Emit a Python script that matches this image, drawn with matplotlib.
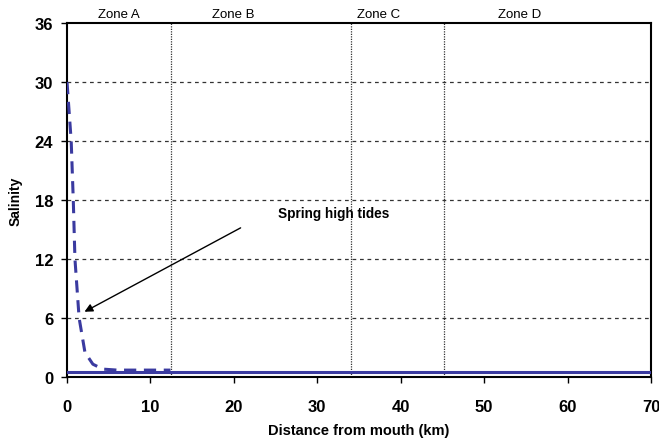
import matplotlib
matplotlib.use('Agg')
import matplotlib.pyplot as plt

plt.rcParams['font.family'] = ['Liberation Sans', 'DejaVu Sans']

# salinity profile during spring high tides (dashed) and base level (solid)
spring_km = [0, 0.5, 0.75, 0.95, 1.45, 2.15, 3.1, 4.3, 6, 12.4]
spring_sal = [30, 24, 18, 12, 6, 2.5, 1.3, 0.8, 0.7, 0.7]
base_km = [0, 70]
base_sal = [0.5, 0.5]

zone_bounds = [12.5, 34, 45.2]
zone_names = ['Zone A', 'Zone B', 'Zone C', 'Zone D']
zone_label_x = [6.2, 19.9, 37.3, 54.3]

xticks = [0, 10, 20, 30, 40, 50, 60, 70]
yticks = [0, 6, 12, 18, 24, 30, 36]

fig = plt.figure(figsize=(6.59, 4.39), dpi=100)
ax = fig.add_axes([0.1017, 0.139, 0.8862, 0.8063])

for y in yticks[1:-1]:
    ax.axhline(y, color='#333333', lw=0.9, ls=(0, (3, 3)), zorder=1)
for xb in zone_bounds:
    ax.axvline(xb, color='#333333', lw=0.9, ls=(0, (1, 1)), zorder=1)

ax.plot(base_km, base_sal, color='#3a3aa0', lw=2.2, zorder=3)
ax.plot(spring_km, spring_sal, color='#3a3aa0', lw=2.2, ls=(0, (4, 2.5)), zorder=4)

ax.annotate('', xy=(1.8, 6.5), xytext=(21.1, 15.3),
            arrowprops=dict(arrowstyle='-|>', color='black', lw=1, mutation_scale=12))
ax.text(25.3, 16.7, 'Spring high tides', fontsize=9.8, fontweight='bold', va='center', ha='left')

for name, xl in zip(zone_names, zone_label_x):
    ax.text(xl, 36.3, name, fontsize=9.5, ha='center', va='bottom')

ax.set_xlim(0, 70)
ax.set_ylim(0, 36)
ax.set_xticks(xticks)
ax.set_yticks(yticks)
ax.tick_params(direction='out', length=4, width=1, labelsize=12)
ax.tick_params(axis='x', pad=12)
ax.tick_params(axis='y', pad=6)
for lab in ax.get_xticklabels() + ax.get_yticklabels():
    lab.set_fontweight('bold')
for s in ax.spines.values():
    s.set_linewidth(1.5)

ax.set_xlabel('Distance from mouth (km)', fontsize=10.5, fontweight='bold', labelpad=6)
ax.set_ylabel('Salinity', fontsize=10, fontweight='bold', labelpad=9)

fig.savefig('out.png', dpi=100)
